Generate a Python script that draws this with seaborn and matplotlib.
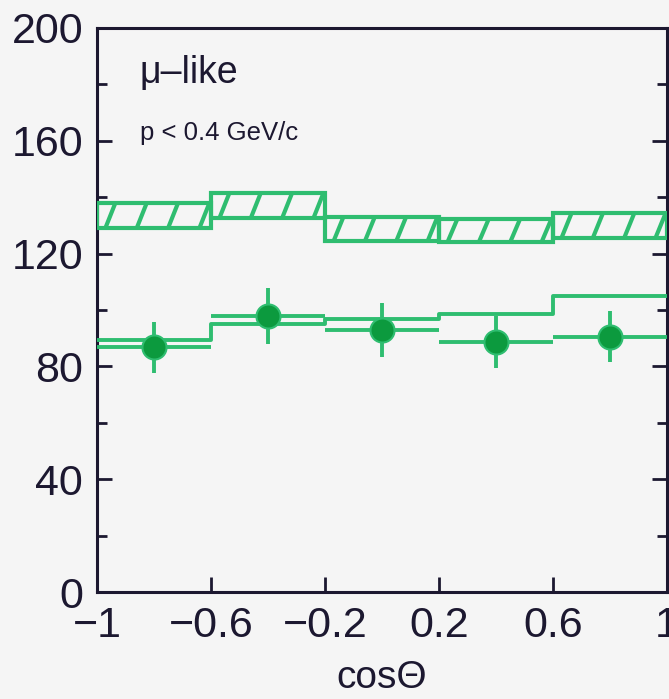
import numpy as np
import pandas as pd
import matplotlib
matplotlib.use("Agg")
import matplotlib.pyplot as plt
from matplotlib.collections import LineCollection
import seaborn as sns

# ---- data ----
bin_edges = [-1.0, -0.6, -0.2, 0.2, 0.6, 1.0]
mc_noosc_lo = [129.2, 132.7, 124.4, 124.1, 125.6]
mc_noosc_hi = [138.1, 141.6, 133.1, 132.4, 134.3]
mc_osc = [89.5, 95.2, 96.9, 98.5, 104.9]
data_cos = [-0.8, -0.4, 0.0, 0.4, 0.8]
data_val = [86.8, 97.8, 93.0, 88.8, 90.6]
data_err = [9.0, 10.0, 9.5, 9.2, 9.0]
x_ticks = [-1.0, -0.6, -0.2, 0.2, 0.6, 1.0]
x_ticklabels = ["\u22121", "\u22120.6", "\u22120.2", "0.2", "0.6", "1"]
y_ticks = [0, 40, 80, 120, 160, 200]
y_ticklabels = ["0", "40", "80", "120", "160", "200"]

sns.set_style("ticks")
plt.rcParams["font.family"] = ["Liberation Sans", "DejaVu Sans"]

GREEN = "#2fbd70"
DARK = "#0c9a3e"
INK = "#1c1830"
BG = "#f5f5f5"

fig = plt.figure(figsize=(6.69, 6.99), dpi=100, facecolor=BG)
ax = fig.add_axes([0.145, 0.153, 0.852, 0.807], facecolor=BG)

edges = np.array(bin_edges)
lo = np.array(mc_noosc_lo)
hi = np.array(mc_noosc_hi)
widths = np.diff(edges)

# hatched no-oscillation band (rectangles per bin)
ax.bar(edges[:-1], hi - lo, bottom=lo, width=widths, align="edge",
       fill=False, edgecolor=GREEN, linewidth=3.0, zorder=3)
segs = []
dx = 0.035
for left, w, l, h in zip(edges[:-1], widths, lo, hi):
    for off in (0.03, 0.14, 0.25, 0.36):
        x0 = left + off
        if x0 + dx <= left + w:
            segs.append([(x0, l), (x0 + dx, h)])
ax.add_collection(LineCollection(segs, colors=GREEN, linewidths=3.0, zorder=3))

# oscillated MC step line
osc_df = pd.DataFrame({"x": edges, "y": list(mc_osc) + [mc_osc[-1]]})
sns.lineplot(data=osc_df, x="x", y="y", drawstyle="steps-post", color=GREEN,
             linewidth=2.8, ax=ax, zorder=4)

# data with error bars
ax.errorbar(data_cos, data_val, xerr=widths / 2, yerr=data_err, fmt="none",
            ecolor=GREEN, elinewidth=2.8, capsize=0, zorder=5)
dat_df = pd.DataFrame({"x": data_cos, "y": data_val})
sns.scatterplot(data=dat_df, x="x", y="y", s=300, color=DARK, edgecolor=GREEN,
                linewidth=1.5, ax=ax, zorder=6)

ax.set_xlim(-1, 1)
ax.set_ylim(0, 200)
ax.set_xticks(x_ticks)
ax.set_xticklabels(x_ticklabels)
ax.set_yticks(y_ticks)
ax.set_yticklabels(y_ticklabels)
ax.set_yticks(np.arange(20, 200, 40), minor=True)
ax.set_xlabel("cos\u0398", fontsize=28, color=INK, labelpad=10)
ax.set_ylabel("")

ax.tick_params(axis="both", which="major", direction="in", length=11, width=2,
               colors=INK, labelsize=31, right=True, top=False)
ax.tick_params(axis="x", pad=10)
ax.tick_params(axis="y", pad=10)
ax.tick_params(axis="y", which="minor", direction="in", length=7, width=2,
               colors=INK, right=True)
for sp in ax.spines.values():
    sp.set_visible(True)
    sp.set_color(INK)
    sp.set_linewidth(2.2)

ax.text(0.075, 0.902, "\u03bc\u2013like", transform=ax.transAxes, fontsize=27,
        color=INK, va="baseline", ha="left")
ax.text(0.075, 0.801, "p < 0.4 GeV/c", transform=ax.transAxes, fontsize=18.5,
        color=INK, va="baseline", ha="left")

fig.savefig("out.png", dpi=100, facecolor=BG)
